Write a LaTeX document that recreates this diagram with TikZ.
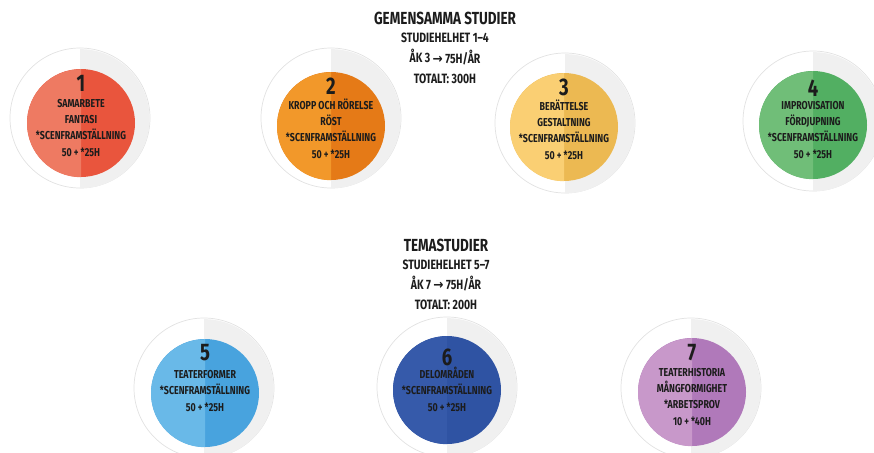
\documentclass[tikz,border=0pt]{standalone}
\usepackage{fontspec}
\setmainfont[FakeStretch=0.77]{Fira Sans}
\newfontfamily\arrowfont[FakeStretch=0.9]{DejaVu Sans}
\usetikzlibrary{calc}
\definecolor{ringgray}{RGB}{240,240,240}
\definecolor{ringline}{RGB}{226,226,226}
\definecolor{ink}{RGB}{28,28,28}
\definecolor{redL}{RGB}{238,122,98}
\definecolor{redD}{RGB}{233,85,61}
\definecolor{orangeL}{RGB}{242,152,42}
\definecolor{orangeD}{RGB}{229,122,23}
\definecolor{yellowL}{RGB}{250,207,115}
\definecolor{yellowD}{RGB}{236,185,82}
\definecolor{greenL}{RGB}{112,190,120}
\definecolor{greenD}{RGB}{82,175,98}
\definecolor{blueL}{RGB}{105,185,232}
\definecolor{blueD}{RGB}{72,163,222}
\definecolor{navyL}{RGB}{54,90,170}
\definecolor{navyD}{RGB}{47,83,163}
\definecolor{purpleL}{RGB}{200,152,202}
\definecolor{purpleD}{RGB}{176,121,186}
\newcommand{\toarrow}{{\arrowfont\bfseries →}}
\tikzset{
  ring/.style={circle, minimum size=140pt, inner sep=0pt, fill=white, draw=ringline, line width=.7pt},
  disk/.style={circle, minimum size=108pt, inner sep=0pt},
  num/.style={font=\fontsize{24}{24}\selectfont\bfseries, text=ink, inner sep=0pt},
  txt/.style={font=\fontsize{11.5}{16.3}\selectfont\bfseries, text=ink, align=center, anchor=base, inner sep=0pt},
  head/.style={font=\fontsize{17.5}{17.5}\selectfont\bfseries, text=ink, inner sep=0pt},
  sub/.style={font=\fontsize{13.5}{20}\selectfont\bfseries, text=ink, align=center, anchor=base, inner sep=0pt}
}
\begin{document}
\begin{tikzpicture}[x=1pt,y=-1pt]
\useasboundingbox (0,0) rectangle (874,452);
\clip (0,0) rectangle (874,452);
% outer rings, right half gray
\node[ring] (r1) at (80,118) {};
\node[ring] (r2) at (331,118) {};
\node[ring] (r3) at (565,123) {};
\node[ring] (r4) at (813,121) {};
\node[ring] (r5) at (204,388) {};
\node[ring] (r6) at (447,387) {};
\node[ring] (r7) at (691,388) {};
\foreach \r in {r1,r2,r3,r4,r5,r6,r7}
  \fill[ringgray] (\r.south) arc[start angle=90, end angle=-90, radius=69.6] -- cycle;
% coloured disks
\node[disk, fill=redD] (c1) at (81,123) {};
\node[disk, fill=orangeD] (c2) at (331,126) {};
\node[disk, fill=yellowD] (c3) at (564,127) {};
\node[disk, fill=greenD] (c4) at (813,125) {};
\node[disk, fill=blueD] (c5) at (205,393) {};
\node[disk, fill=navyD] (c6) at (447,390) {};
\node[disk, fill=purpleD] (c7) at (692,392) {};
%     lighter left halves
\fill[redL] (c1.south) arc[start angle=90, end angle=270, radius=54] -- cycle;
\fill[orangeL] (c2.south) arc[start angle=90, end angle=270, radius=54] -- cycle;
\fill[yellowL] (c3.south) arc[start angle=90, end angle=270, radius=54] -- cycle;
\fill[greenL] (c4.south) arc[start angle=90, end angle=270, radius=54] -- cycle;
\fill[blueL] (c5.south) arc[start angle=90, end angle=270, radius=54] -- cycle;
\fill[navyL] (c6.south) arc[start angle=90, end angle=270, radius=54] -- cycle;
\fill[purpleL] (c7.south) arc[start angle=90, end angle=270, radius=54] -- cycle;
% headings (base = last line)
\node[head] (h1) at (445,18) {GEMENSAMMA STUDIER};
\node[sub] (s1) at (445,83) {STUDIEHELHET 1–4\\ÅK 3 \toarrow{} 75H/ÅR\\TOTALT: 300H};
\node[head] (h2) at (446,245) {TEMASTUDIER};
\node[sub] (s2) at (446,309) {STUDIEHELHET 5–7\\ÅK 7 \toarrow{} 75H/ÅR\\TOTALT: 200H};
% numbers
\node[num] (n1) at ($(c1)+(0,-40)$) {1};
\node[num] (n2) at ($(c2)+(0,-40)$) {2};
\node[num] (n3) at ($(c3)+(0,-40)$) {3};
\node[num] (n4) at ($(c4)+(0,-37)$) {4};
\node[num] (n5) at ($(c5)+(0,-40)$) {5};
\node[num] (n6) at ($(c6)+(0,-33)$) {6};
\node[num] (n7) at ($(c7)+(0,-39)$) {7};
% texts
\node[txt] (t1) at ($(c1)+(0,33)$) {SAMARBETE\\FANTASI\\*SCENFRAMSTÄLLNING\\50 + *25H};
\node[txt] (t2) at ($(c2)+(0,32)$) {KROPP OCH RÖRELSE\\RÖST\\*SCENFRAMSTÄLLNING\\50 + *25H};
\node[txt] (t3) at ($(c3)+(0,32)$) {BERÄTTELSE\\GESTALTNING\\*SCENFRAMSTÄLLNING\\50 + *25H};
\node[txt] (t4) at ($(c4)+(0,33)$) {IMPROVISATION\\FÖRDJUPNING\\*SCENFRAMSTÄLLNING\\50 + *25H};
\node[txt] (t5) at ($(c5)+(0,18)$) {TEATERFORMER\\*SCENFRAMSTÄLLNING\\50 + *25H};
\node[txt] (t6) at ($(c6)+(0,21)$) {DELOMRÅDEN\\*SCENFRAMSTÄLLNING\\50 + *25H};
\node[txt] (t7) at ($(c7)+(0,33)$) {TEATERHISTORIA\\MÅNGFORMIGHET\\*ARBETSPROV\\10 + *40H};
\end{tikzpicture}
\end{document}
